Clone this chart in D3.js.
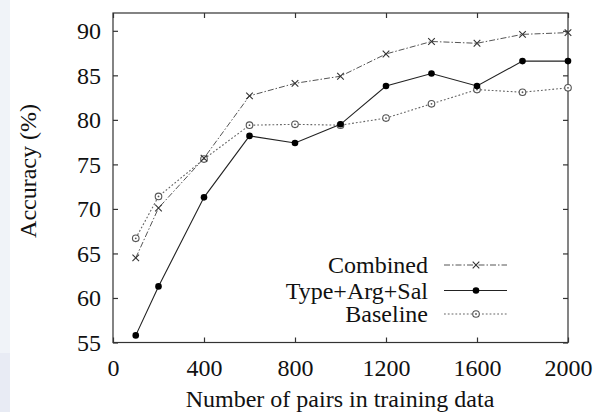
<!DOCTYPE html>
<html><head><meta charset="utf-8">
<script src="https://cdn.jsdelivr.net/npm/d3@7"></script>
<style>body{margin:0;background:#fff}svg{display:block}</style>
</head><body>
<script>
const xValues = [100,200,400,600,800,1000,1200,1400,1600,1800,2000];
const combined = [64.5,70.1,75.7,82.7,84.1,84.9,87.4,88.8,88.6,89.6,89.8];
const typeArgSal = [55.8,61.3,71.3,78.2,77.4,79.5,83.8,85.2,83.8,86.6,86.6];
const baseline = [66.7,71.4,75.6,79.4,79.5,79.4,80.2,81.8,83.4,83.1,83.6];
const xTicks = [0,400,800,1200,1600,2000];
const yTicks = [55,60,65,70,75,80,85,90];
const seriesNames = ["Combined","Type+Arg+Sal","Baseline"];

const W=596,H=412;
const svg=d3.select("body").append("svg").attr("width",W).attr("height",H);
svg.append("rect").attr("x",0).attr("y",0).attr("width",10).attr("height",353).attr("fill","#f0f3f8");
svg.append("rect").attr("x",0).attr("y",353).attr("width",10).attr("height",H-353).attr("fill","#e8ebf4");

const L=113,R=568,T=13,B=342.5;
const x=d3.scaleLinear().domain([0,2000]).range([L,R]);
const y=d3.scaleLinear().domain([55,92]).range([B,T]);
const font="Liberation Serif";
const fs=24;

const g=svg.append("g");
g.append("rect").attr("x",L).attr("y",T).attr("width",R-L).attr("height",B-T)
 .attr("fill","none").attr("stroke","#333").attr("stroke-width",1.2);

const fmt=d3.format("d");
const xb=svg.append("g").attr("transform",`translate(0,${B})`)
 .call(d3.axisBottom(x).tickValues(xTicks).tickFormat(fmt).tickSizeInner(-5).tickSizeOuter(0).tickPadding(16));
const xt=svg.append("g").attr("transform",`translate(0,${T})`)
 .call(d3.axisTop(x).tickValues(xTicks).tickSizeInner(-5).tickSizeOuter(0).tickFormat(""));
const yl=svg.append("g").attr("transform",`translate(${L},0)`)
 .call(d3.axisLeft(y).tickValues(yTicks).tickFormat(fmt).tickSizeInner(-5).tickSizeOuter(0).tickPadding(12));
const yr=svg.append("g").attr("transform",`translate(${R},0)`)
 .call(d3.axisRight(y).tickValues(yTicks).tickSizeInner(-5).tickSizeOuter(0).tickFormat(""));
[xb,xt,yl,yr].forEach(a=>{a.select(".domain").remove();
 a.attr("font-family",font).attr("font-size",fs);
 a.selectAll(".tick line").attr("stroke","#333").attr("stroke-width",1.2);
 a.selectAll("text").attr("font-family",font).attr("font-size",fs).attr("fill","#111");});

svg.append("text").attr("x",340).attr("y",407).attr("text-anchor","middle")
 .attr("font-family",font).attr("font-size",fs).attr("fill","#111").text("Number of pairs in training data");
svg.append("text").attr("transform","translate(36,171) rotate(-90)").attr("text-anchor","middle")
 .attr("font-family",font).attr("font-size",fs).attr("fill","#111").text("Accuracy (%)");

const styles=[
 {data:combined,stroke:"#555",dash:"6,2,1.5,2",w:1,marker:"x"},
 {data:typeArgSal,stroke:"#222",dash:null,w:1.1,marker:"dot"},
 {data:baseline,stroke:"#666",dash:"1.8,2",w:1.1,marker:"odot"}
];
const line=d3.line().x((d,i)=>x(xValues[i])).y(d=>y(d));
function drawMarker(sel,type,cx,cy){
 if(type==="x"){
  sel.append("path").attr("d",`M${cx-3.3},${cy-3.3}L${cx+3.3},${cy+3.3}M${cx-3.3},${cy+3.3}L${cx+3.3},${cy-3.3}`)
   .attr("stroke","#333").attr("stroke-width",1.1).attr("fill","none");
 } else if(type==="dot"){
  sel.append("circle").attr("cx",cx).attr("cy",cy).attr("r",3.3).attr("fill","#000");
 } else {
  sel.append("circle").attr("cx",cx).attr("cy",cy).attr("r",3.3).attr("fill","#fff").attr("stroke","#555").attr("stroke-width",1.1);
  sel.append("circle").attr("cx",cx).attr("cy",cy).attr("r",0.9).attr("fill","#555");
 }
}
[2,0,1].forEach(k=>{
 const s=styles[k];
 const p=svg.append("path").datum(s.data).attr("d",line).attr("fill","none")
  .attr("stroke",s.stroke).attr("stroke-width",s.w);
 if(s.dash) p.attr("stroke-dasharray",s.dash);
 const mg=svg.append("g");
 s.data.forEach((d,i)=>drawMarker(mg,s.marker,x(xValues[i]),y(d)));
});

const legY=[265,290.5,314];
seriesNames.forEach((n,k)=>{
 const s=styles[k];
 svg.append("text").attr("x",428).attr("y",legY[k]).attr("dy","0.35em").attr("text-anchor","end")
  .attr("font-family",font).attr("font-size",fs).attr("fill","#111").text(n);
 const p=svg.append("line").attr("x1",444).attr("x2",507).attr("y1",legY[k]).attr("y2",legY[k])
  .attr("stroke",s.stroke).attr("stroke-width",s.w);
 if(s.dash) p.attr("stroke-dasharray",s.dash);
 drawMarker(svg.append("g"),s.marker,476,legY[k]);
});
</script>
</body></html>
